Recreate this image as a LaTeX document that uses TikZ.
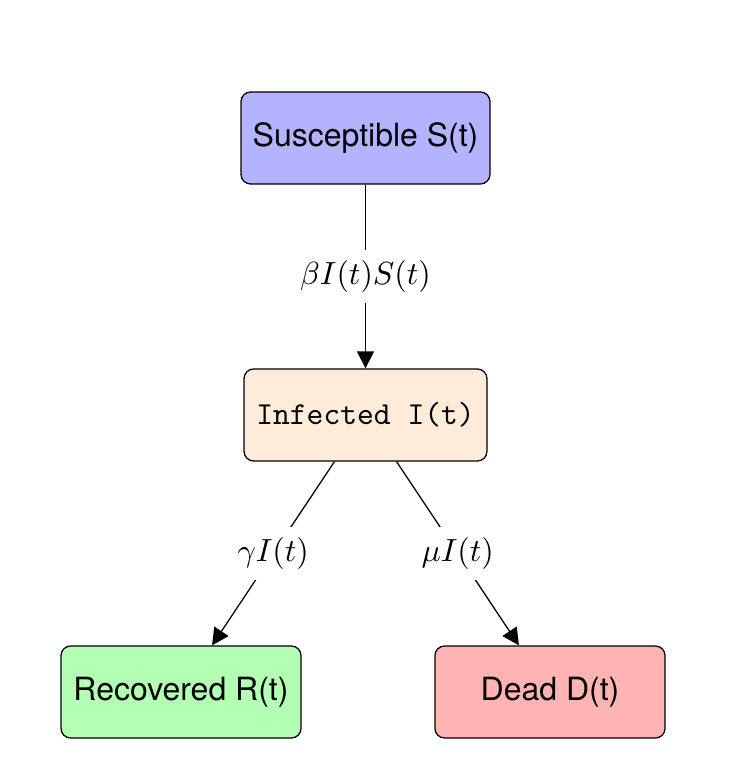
\documentclass[tikz,border=0pt]{standalone}
\usepackage{fontspec}
\setsansfont{TeX Gyre Heros}
\usetikzlibrary{arrows.meta}
\definecolor{sfill}{RGB}{179,179,255}
\definecolor{ifill}{RGB}{255,235,217}
\definecolor{rfill}{RGB}{179,255,179}
\definecolor{dfill}{RGB}{255,179,179}
\begin{document}
\begin{tikzpicture}[x=0.3125pt,y=-0.3125pt,
  box/.style={draw, rounded corners=3pt, minimum height=28.75pt, line width=0.4pt, font=\sffamily},
  flow/.style={-{Triangle[length=5.3pt,width=5.3pt]}, line width=0.4pt},
  lbl/.style={fill=white, midway}]
\useasboundingbox (0,0) rectangle (729,760);
\node[box, fill=sfill, minimum width=77.8pt] (S) at (365.5,138) {Susceptible S(t)};
\node[box, fill=ifill, minimum width=75.9pt, font=\ttfamily] (I) at (365.5,415) {Infected I(t)};
\node[box, fill=rfill, minimum width=75pt] (R) at (181,692) {Recovered R(t)};
\node[box, fill=dfill, minimum width=71.9pt] (D) at (550,692) {Dead D(t)};
\draw[flow] (S) -- (I) node[lbl] (l1) {$\beta I(t)S(t)$};
\draw[flow] (I) -- (R) node[lbl] (l2) {$\gamma I(t)$};
\draw[flow] (I) -- (D) node[lbl] (l3) {$\mu I(t)$};
\end{tikzpicture}
\end{document}
